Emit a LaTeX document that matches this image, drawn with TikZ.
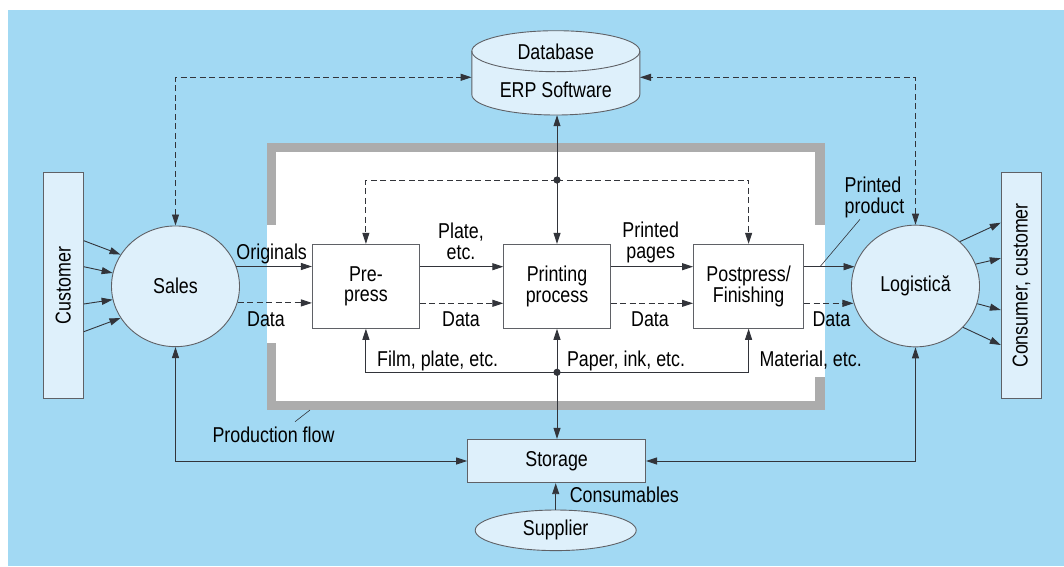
\documentclass[tikz,border=0pt]{standalone}
\usepackage{fontspec}
\setmainfont{Liberation Sans}[FakeStretch=0.83]
\usetikzlibrary{arrows.meta,shapes.geometric}
\definecolor{bgblue}{RGB}{162,217,243}
\definecolor{nodefill}{RGB}{222,240,251}
\definecolor{framegray}{RGB}{172,172,172}
\definecolor{linec}{RGB}{50,52,58}
\definecolor{borderc}{RGB}{95,97,102}
\begin{document}
\begin{tikzpicture}[x=1pt,y=-1pt,
  font=\fontsize{21.5}{20.7}\selectfont,
  >={Triangle[length=11pt,width=7pt]},
  ln/.style={draw=linec, line width=0.9pt},
  dsh/.style={ln, dash pattern=on 6pt off 3.5pt},
  procbox/.style={draw=borderc, line width=0.9pt, fill=white, minimum height=84pt, align=center, inner sep=0pt},
  endbox/.style={draw=borderc, line width=0.9pt, fill=nodefill, minimum width=225.6pt, minimum height=40.3pt, rotate=90, inner sep=0pt},
  ell/.style={ellipse, draw=borderc, fill=nodefill, line width=0.9pt, inner sep=0pt},
  lbl/.style={inner sep=0pt, anchor=base, align=center},
  lblw/.style={inner sep=0pt, anchor=base west, align=left},
  dotc/.style={fill=linec}
]
\useasboundingbox (0,0) rectangle (1064,566);
% background
\fill[white] (0,0) rectangle (1064,566);
\fill[bgblue] (8,10) rectangle (1064,566);
% production frame
\fill[framegray] (267,142.7) rectangle (824.6,410);
\fill[white] (276.2,151.7) rectangle (815,400.7);
\fill[white] (266.9,225) rectangle (277,343.3);
\fill[white] (814,225) rectangle (824.7,376.7);

% database cylinder
\node[minimum width=168pt, minimum height=84.3pt, inner sep=0pt] (db) at (555.8,72.85) {};
\filldraw[fill=nodefill, draw=borderc, line width=0.9pt]
  (471.8,51.2) -- (471.8,94.5) arc[start angle=180, end angle=0, x radius=84, y radius=20.5]
  -- (639.8,51.2) arc[start angle=0, end angle=-180, x radius=84, y radius=20.5] -- cycle;
\draw[draw=borderc, line width=0.9pt] (471.8,51.2) arc[start angle=180, end angle=0, x radius=84, y radius=20.5];
\node[lbl] (dbt1) at (555.8,59.3) {Database};
\node[lbl] (dbt2) at (555.8,97.3) {ERP Software};

% main nodes
\node[endbox] (customer) at (63.2,285.5) {Customer};
\node[endbox] (consumer) at (1021.4,285.5) {Consumer, customer};
\node[ell, minimum width=128pt, minimum height=120.7pt] (sales) at (175.5,286.3) {Sales};
\node[ell, minimum width=128pt, minimum height=121.7pt] (logistica) at (915.5,286) {Logistică};
\node[procbox, minimum width=107.1pt] (prepress) at (365.9,286.3) {Pre-\\press};
\node[procbox, minimum width=106.4pt] (printing) at (557,286.3) {Printing\\process};
\node[procbox, minimum width=110.3pt] (postpress) at (748.6,286.3) {Postpress/\\Finishing};
\node[draw=borderc, line width=0.9pt, fill=nodefill, minimum width=178pt, minimum height=43.4pt, inner sep=0pt] (storage) at (556.6,461) {Storage};
\node[ell, minimum width=161pt, minimum height=40.6pt] (supplier) at (555.7,530.3) {Supplier};

% dashed links to database
\path (db.west) ++(0,4.45) coordinate (dbL);
\path (db.east) ++(0,4.45) coordinate (dbR);
\draw[dsh,<->] (sales.north) |- (dbL);
\draw[dsh,<->] (logistica.north) |- (dbR);

% vertical database/printing/storage
\coordinate (busT) at (557,180);
\coordinate (busB) at (557,372.3);
\draw[ln,<->] (printing.north |- db.south) -- (printing.north);
\draw[dsh,->] (busT) -| (prepress.north);
\draw[dsh,->] (busT) -| (postpress.north);
\fill[dotc] (busT) circle[radius=3.6pt];
\draw[ln,<->] (printing.south) -- (printing.south |- storage.north);
\draw[ln,->] (busB) -| (prepress.south);
\draw[ln,->] (busB) -| (postpress.south);
\fill[dotc] (busB) circle[radius=3.6pt];

% storage links
\draw[ln,<->] (sales.south) |- (storage.west);
\draw[ln,<->] (logistica.south) |- (storage.east);
\draw[ln,->] (supplier.north) -- (storage.south -| supplier.north);

% production flow arrows
\draw[ln,->] (sales.18) -- (prepress.west |- sales.18);
\draw[dsh,->] (sales.-15.5) -- (prepress.west |- sales.-15.5);
\draw[ln,->] (prepress.east |- 0,266.7) -- (printing.west |- 0,266.7);
\draw[dsh,->] (prepress.east |- 0,303.3) -- (printing.west |- 0,303.3);
\draw[ln,->] (printing.east |- 0,266.7) -- (postpress.west |- 0,266.7);
\draw[dsh,->] (printing.east |- 0,303.3) -- (postpress.west |- 0,303.3);
\draw[ln,->] (postpress.east |- 0,266.7) -- (logistica.162.4 |- 0,266.7);
\draw[dsh,->] (postpress.east |- 0,303.3) -- (logistica.195.7 |- 0,303.3);

% customer / consumer arrows
\draw[ln,->] (customer.south |- 0,240.7) -- (sales.150);
\draw[ln,->] (customer.south |- 0,266.7) -- (sales.168);
\draw[ln,->] (customer.south |- 0,304) -- (sales.192);
\draw[ln,->] (customer.south |- 0,331.7) -- (sales.210);
\draw[ln,->] (logistica.45) -- (consumer.north |- 0,222.7);
\draw[ln,->] (logistica.20) -- (consumer.north |- 0,258.3);
\draw[ln,->] (logistica.-16) -- (consumer.north |- 0,310);
\draw[ln,->] (logistica.-41) -- (consumer.north |- 0,345);

% labels (multi-line: base = last line)
\node[lbl] (l-orig) at (271.7,259.3) {Originals};
\node[lbl] (l-d1) at (266,326) {Data};
\node[lbl] (l-plate) at (461,259.3) {Plate,\\etc.};
\node[lbl] (l-d2) at (461,326) {Data};
\node[lbl] (l-pages) at (650.7,258.5) {Printed\\pages};
\node[lbl] (l-d3) at (650,326) {Data};
\node[lblw] (l-prod) at (844.5,213.3) {Printed\\product};
\node[lbl] (l-d4) at (831.4,326) {Data};
\node[lblw] (l-film) at (377,366.7) {Film, plate, etc.};
\node[lblw] (l-paper) at (566.8,366.7) {Paper, ink, etc.};
\node[lblw] (l-mat) at (759.4,366.7) {Material, etc.};
\node[lblw] (l-flow) at (212.3,442.7) {Production flow};
\node[lblw] (l-cons) at (569.6,502.7) {Consumables};

% leader lines
\coordinate (prodfoot) at (820,266.7);
\coordinate (prodtip) at (860,219.3);
\draw[ln, line width=0.6pt] (prodfoot) -- (prodtip);
\coordinate (flowtip) at (295,421.7);
\coordinate (framefoot) at (310,410);
\draw[ln, line width=0.6pt] (flowtip) -- (framefoot);
\end{tikzpicture}
\end{document}
